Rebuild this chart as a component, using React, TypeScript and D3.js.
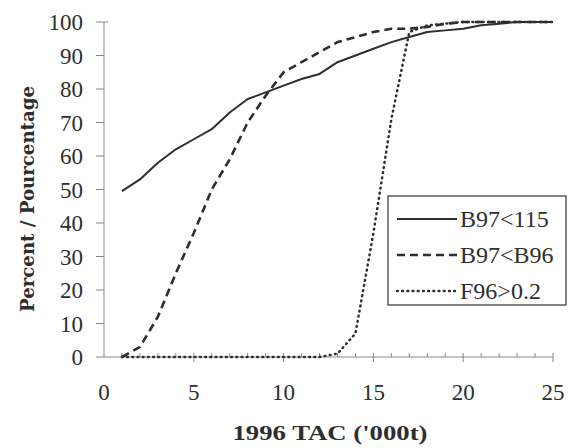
import React from "react";
import * as d3 from "d3";

const width = 568;
const height = 448;
const margin = { top: 22, right: 15, bottom: 91, left: 104 };

// 1996 TAC ('000t)
const tac = [1, 2, 3, 4, 5, 6, 7, 8, 9, 10, 11, 12, 13, 14, 15, 16, 17, 18, 19, 20, 21, 22, 23, 24, 25];
const b97lt115 = [49.5, 53, 58, 62, 65, 68, 73, 77, 79, 81, 83, 84.5, 88, 90, 92, 94, 95.5, 97, 97.5, 98, 99, 99.5, 100, 100, 100];
const b97ltb96 = [0, 3, 12, 25, 37, 50, 59, 70, 78, 85, 88, 91, 94, 95.5, 97, 98, 98, 98.5, 99.5, 100, 100, 100, 100, 100, 100];
const f96gt02 = [0, 0, 0, 0, 0, 0, 0, 0, 0, 0, 0, 0, 1, 7, 37, 71, 97, 99, 99.5, 100, 100, 100, 100, 100, 100];

const seriesNames = ["B97<115", "B97<B96", "F96>0.2"];
const xTicks = [0, 5, 10, 15, 20, 25];
const yTicks = [0, 10, 20, 30, 40, 50, 60, 70, 80, 90, 100];

const ink = "#2e2e2e";
const serif = "'Liberation Serif', 'Times New Roman', Times, serif";
const slab = "'DejaVu Serif', serif";

const styles = [
  { width: 2, dash: "none", cap: "butt" },
  { width: 2.6, dash: "8,5", cap: "butt" },
  { width: 2.5, dash: "0.8,4.4", cap: "round" },
];

export default function App() {
  const x = d3.scaleLinear().domain([0, 25]).range([margin.left, width - margin.right]);
  const y = d3.scaleLinear().domain([0, 100]).range([height - margin.bottom, margin.top]);

  const line = d3.line<number>()
    .x((_, i) => x(tac[i]))
    .y(d => y(d));

  const series = [b97lt115, b97ltb96, f96gt02];
  const minor = d3.range(1, 26);
  const y0 = y(0);

  return (
    <svg width={width} height={height} style={{ position: "absolute", left: 0, top: 0, background: "#fff" }}>
      {/* axes */}
      <line x1={x(0)} x2={x(25)} y1={y0} y2={y0} stroke="#888" strokeWidth={1} />
      <line x1={x(0)} x2={x(0)} y1={y(0)} y2={y(100)} stroke="#888" strokeWidth={1} />
      {minor.map(t => (
        <line key={"mx" + t} x1={x(t)} x2={x(t)} y1={y0 - 4} y2={t % 5 === 0 ? y0 + 5 : y0} stroke="#888" strokeWidth={1} />
      ))}
      {yTicks.map(t => (
        <line key={"ty" + t} x1={x(0) - 8} x2={t === 100 ? x(0) + 4 : x(0)} y1={y(t)} y2={y(t)} stroke="#888" strokeWidth={1} />
      ))}
      {yTicks.map(t => (
        <text key={"ly" + t} x={83} y={y(t)} dy="0.35em" textAnchor="end" style={{ fontFamily: serif }} fontSize={23} fill={ink}>{t}</text>
      ))}
      {xTicks.map(t => (
        <text key={"lx" + t} x={x(t)} y={392} dy="0.35em" textAnchor="middle" style={{ fontFamily: serif }} fontSize={23} fill={ink}>{t}</text>
      ))}

      {/* series */}
      {series.map((s, i) => (
        <path key={"s" + i} d={line(s) || ""} fill="none" stroke={ink}
          strokeWidth={styles[i].width} strokeDasharray={styles[i].dash} strokeLinecap={styles[i].cap as any} strokeLinejoin="round" />
      ))}

      {/* titles */}
      <text x={330} y={433} dy="0.35em" textAnchor="middle" style={{ fontFamily: serif }} fontWeight="bold" fontSize={21}
        fill={ink} textLength={195} lengthAdjust="spacingAndGlyphs">1996 TAC ('000t)</text>
      <text transform={`translate(28,${199}) rotate(-90)`} dy="0.35em" textAnchor="middle"
        style={{ fontFamily: slab }} fontWeight="bold" fontSize={18} fill={ink} textLength={226} lengthAdjust="spacingAndGlyphs">Percent / Pourcentage</text>

      {/* legend */}
      <rect x={388} y={196} width={178} height={109} fill="#fff" stroke="#444" strokeWidth={1.3} />
      {seriesNames.map((n, i) => (
        <g key={"lg" + i} transform={`translate(0,${219 + i * 36})`}>
          <line x1={397} x2={457} y1={0} y2={0} stroke={ink} strokeWidth={styles[i].width}
            strokeDasharray={styles[i].dash} strokeLinecap={styles[i].cap as any} />
          <text x={460} y={0} dy="0.35em" style={{ fontFamily: serif }} fontSize={24} fill={ink}>{n}</text>
        </g>
      ))}
    </svg>
  );
}
